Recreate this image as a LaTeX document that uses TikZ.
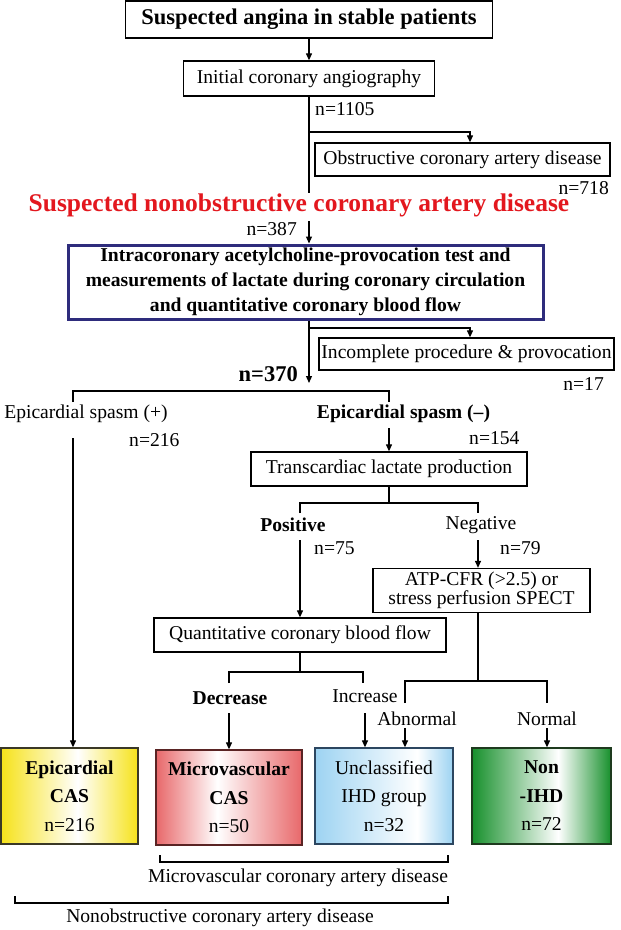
\documentclass[tikz,border=0pt]{standalone}
\usepackage{fontspec}
\setmainfont{Liberation Serif}
\usetikzlibrary{arrows.meta}
\definecolor{navy}{HTML}{2E2C7C}
\definecolor{redtxt}{HTML}{E3171E}
\definecolor{epiY}{HTML}{F6E21A}
\definecolor{micR}{HTML}{E8686A}
\definecolor{uncB}{HTML}{9DD3F2}
\definecolor{nonG}{HTML}{17902C}
\definecolor{epiD}{HTML}{3A3826}
\definecolor{micD}{HTML}{5A2424}
\definecolor{uncD}{HTML}{2C4660}
\definecolor{nonD}{HTML}{1E3A1E}
\pgfdeclarehorizontalshading{epishade}{100bp}{color(0bp)=(epiY); color(25bp)=(epiY); color(53bp)=(white); color(75bp)=(epiY); color(100bp)=(epiY)}
\pgfdeclarehorizontalshading{micshade}{100bp}{color(0bp)=(micR); color(25bp)=(micR); color(46bp)=(white); color(75bp)=(micR); color(100bp)=(micR)}
\pgfdeclarehorizontalshading{uncshade}{100bp}{color(0bp)=(uncB); color(25bp)=(uncB); color(62bp)=(white); color(75bp)=(uncB); color(100bp)=(uncB)}
\pgfdeclarehorizontalshading{nonshade}{100bp}{color(0bp)=(nonG); color(25bp)=(nonG); color(56bp)=(white); color(75bp)=(nonG); color(100bp)=(nonG)}
\newcommand{\nf}{\fontsize{19.6}{24}\selectfont}
\tikzset{
  box/.style={draw, line width=1.3pt, inner sep=0pt, font=\nf},
  bluebox/.style={draw=navy, line width=3pt, inner sep=0pt, align=center, font=\fontsize{19.6}{25}\selectfont\bfseries},
  lbl/.style={inner sep=0pt, font=\nf},
  bl/.style={inner sep=0pt, font=\nf\bfseries},
  endbox/.style={draw, line width=1.3pt, inner sep=0pt, align=center, font=\fontsize{19.6}{28.5}\selectfont, minimum height=96pt},
  arr/.style={-{Triangle[length=7pt,width=6pt]}, line width=1.2pt},
  ln/.style={line width=1.2pt}
}
\begin{document}
\begin{tikzpicture}[x=1pt,y=-1pt]
\useasboundingbox (0,0) rectangle (621,930);
\fill[white] (0,0) rectangle (621,930);
% top part
\node[box, minimum width=367pt, minimum height=37pt, font=\fontsize{22.5}{26}\selectfont\bfseries] (b1) at (309,19.5) {Suspected angina in stable patients};
\node[box, minimum width=251pt, minimum height=35pt] (b2) at (309,78.5) {Initial coronary angiography};
\draw[arr] (b1) -- (b2);
\node[lbl, anchor=west] (n1105) at (315,109) {n=1105};
\node[box, minimum width=295pt, minimum height=33pt] (obs) at (462.5,159.5) {Obstructive coronary artery disease};
\node[lbl, anchor=east] (n718) at (609,188) {n=718};
\node[inner sep=0pt, font=\fontsize{25.5}{28}\selectfont\bfseries, text=redtxt] (sno) at (299,205) {Suspected nonobstructive coronary artery disease};
\draw[ln] (b2.south) -- (b2.south |- sno.north);
\coordinate (j1) at (309,132);
\draw[arr] (j1) -| ([xshift=7.5pt]obs.north);
\node[lbl, anchor=east] (n387) at (297,229) {n=387};
\node[bluebox, minimum width=475pt, minimum height=74pt] (b3) at (305.5,282) {Intracoronary acetylcholine-provocation test and\\measurements of lactate during coronary circulation\\and quantitative coronary blood flow};
\coordinate (s387) at (309,221);
\draw[arr] (s387) -- (s387 |- b3.north);
% incomplete
\node[box, minimum width=295pt, minimum height=32pt] (inc) at (466.5,354) {Incomplete procedure \& provocation};
\node[lbl, anchor=east] (n17) at (604,384) {n=17};
\coordinate (j2) at (309,328);
\draw[arr] (j2) -| ([xshift=3.5pt]inc.north);
\node[inner sep=0pt, font=\fontsize{22.5}{26}\selectfont\bfseries, anchor=east] (n370) at (298,374) {n=370};
\coordinate (a370) at (309,383);
\draw[arr] (b3.south -| a370) -- (a370);
% spasm split
\node[lbl] (esp) at (86,414) {Epicardial spasm (+)};
\node[bl] (esm) at (403.5,414) {Epicardial spasm (–)};
\node[lbl, anchor=west] (n216) at (129,440) {n=216};
\node[lbl, anchor=west] (n154) at (469,438) {n=154};
\coordinate (t1) at (73,391);
\coordinate (t2) at (389,391);
\draw[ln] (73,402) -- (t1) -- (t2) -- (389,402);
% transcardiac
\node[box, minimum width=276pt, minimum height=34pt] (trans) at (389,469) {Transcardiac lactate production};
\coordinate (s154) at (389,428);
\draw[arr] (s154) -- (trans.north);
\coordinate (t3) at (300,503);
\coordinate (t4) at (478,503);
\draw[ln] (trans.south) -- (trans.south |- t3);
\draw[ln] (300,513) -- (t3) -- (t4) -- (478,513);
\node[bl] (pos) at (293,525) {Positive};
\node[lbl] (neg) at (481,525) {Negative};
\node[lbl, anchor=west] (n75) at (314,548) {n=75};
\node[lbl, anchor=west] (n79) at (500,548) {n=79};
\node[box, minimum width=217pt, minimum height=44pt, align=center, font=\fontsize{19.6}{17.5}\selectfont] (atp) at (481.5,590.5) {ATP-CFR (>2.5) or\\stress perfusion SPECT};
\node[box, minimum width=292pt, minimum height=34pt] (qcbf) at (300,635) {Quantitative coronary blood flow};
\coordinate (p1) at (300,540);
\coordinate (p2) at (478,540);
\draw[arr] (p1) -- (p1 |- qcbf.north);
\draw[arr] (p2) -- (p2 |- atp.north);
% lower splits
\coordinate (t5) at (229,672);
\coordinate (t6) at (363,672);
\draw[ln] (qcbf.south) -- (qcbf.south |- t5);
\draw[ln] (229,683) -- (t5) -- (t6) -- (363,683);
\coordinate (t7) at (405,681);
\coordinate (t8) at (547,681);
\draw[ln] (atp.south -| p2) -- (p2 |- t7);
\draw[ln] (405,703) -- (t7) -- (t8) -- (547,703);
\node[bl] (dec) at (230,698) {Decrease};
\node[lbl] (incr) at (365,696) {Increase};
\node[lbl] (abn) at (417,719) {Abnormal};
\node[lbl] (nrm) at (547,719) {Normal};
% end boxes
\node[endbox, draw=epiD, shading=epishade, minimum width=137pt] (epi) at (69.5,796) {{\bfseries Epicardial}\\{\bfseries CAS}\\n=216};
\node[endbox, draw=micD, shading=micshade, minimum width=146pt, minimum height=95pt] (mic) at (229,797.5) {{\bfseries Microvascular}\\{\bfseries CAS}\\n=50};
\node[endbox, draw=uncD, shading=uncshade, minimum width=138pt] (unc) at (384,796) {Unclassified\\IHD group\\n=32};
\node[endbox, draw=nonD, shading=nonshade, minimum width=139pt] (non) at (541.5,796) {{\bfseries Non}\\{\bfseries -IHD}\\n=72};
\coordinate (e1) at (73,438);
\coordinate (e2) at (229,713);
\coordinate (e3) at (365,713);
\coordinate (e4) at (405,728);
\coordinate (e5) at (547,728);
\draw[arr] (e1) -- (e1 |- epi.north);
\draw[arr] (e2) -- (e2 |- mic.north);
\draw[arr] (e3) -- (e3 |- unc.north);
\draw[arr] (e4) -- (e4 |- unc.north);
\draw[arr] (e5) -- (e5 |- non.north);
% brackets
\draw[ln] (160,855) -- (160,862) -- (448,862) -- (448,855);
\node[lbl] (mcad) at (298,878) {Microvascular coronary artery disease};
\draw[ln] (15,896) -- (15,903) -- (448,903) -- (448,896);
\node[lbl] (ncad) at (220,918) {Nonobstructive coronary artery disease};
\end{tikzpicture}
\end{document}
